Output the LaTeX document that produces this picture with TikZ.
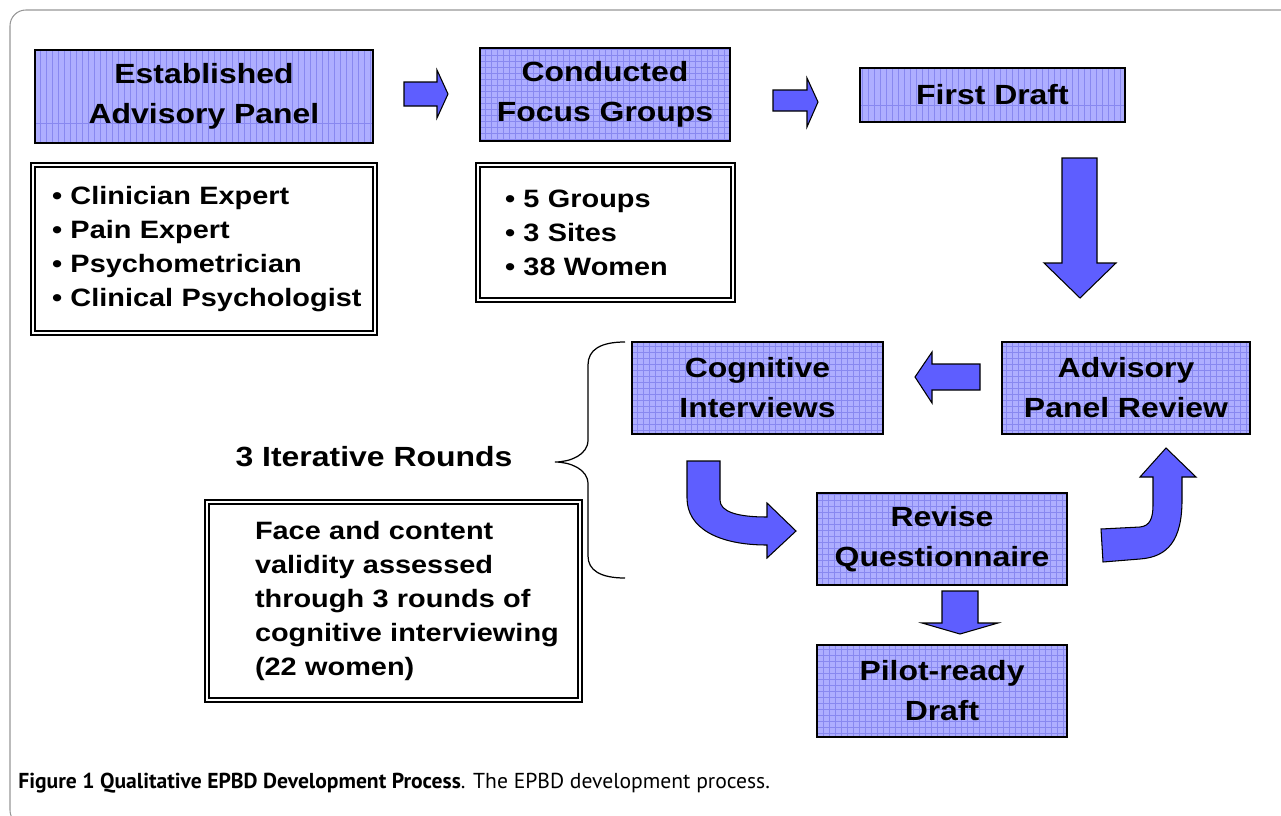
\documentclass[tikz,border=0pt]{standalone}
\usepackage{fontspec}
\setmainfont[FakeStretch=1.15]{Liberation Sans}
\newfontfamily\capfont{PT Sans}
\usetikzlibrary{calc,positioning,decorations.pathreplacing}
\definecolor{boxfill}{RGB}{174,174,255}
\definecolor{boxline}{RGB}{136,136,240}
\definecolor{arrfill}{RGB}{94,94,255}
\definecolor{framegray}{RGB}{150,150,150}
\tikzset{
    titlesty/.style={font=\fontsize{15.8}{22.7}\selectfont\bfseries, align=center},
    boxsty/.style={draw, line width=0.7pt, fill=boxfill, rectangle, inner sep=0pt, titlesty},
    gboxsty/.style={boxsty, path picture={\draw[boxline, line width=0.3pt, step=0.12cm]
        (path picture bounding box.south west) grid (path picture bounding box.north east);}},
    vboxsty/.style={boxsty, path picture={\draw[boxline, line width=0.3pt, xstep=0.12cm, ystep=8cm]
        (path picture bounding box.south west) grid (path picture bounding box.north east);}},
    liststy/.style={draw, double, double distance=1.5pt, line width=0.7pt, fill=white, rectangle,
        inner sep=0pt, align=left, font=\fontsize{14.3}{19.3}\selectfont\bfseries},
    arrsty/.style={draw, fill=arrfill, line width=0.6pt, line join=miter},
    framesty/.style={draw=framegray, line width=0.6pt, rounded corners=9pt},
}

\begin{document}
\begin{tikzpicture}[x=0.02cm, y=-0.02cm]
\useasboundingbox (0,0) rectangle (1281,815);
\begin{scope}
\clip (0,0) rectangle (1281,815);
\draw [framesty] (10,10) rectangle (1320,826);
\end{scope}

% top row
\node (estpanel) [vboxsty, minimum width=6.76cm, minimum height=1.86cm] at (204,96.5) {Established\\Advisory Panel};
\node (panellist) [liststy, text width=6.84cm, minimum height=3.36cm] at (204,249)
    {\leftskip=0.38cm \textbullet\ Clinician Expert\\\textbullet\ Pain Expert\\\textbullet\ Psychometrician\\\textbullet\ Clinical Psychologist\par};
\node (focus) [gboxsty, minimum width=5cm, minimum height=1.86cm] at (605,94.5) {Conducted\\Focus Groups};
\node (focuslist) [liststy, text width=5.1cm, minimum height=2.7cm] at (605.5,232.5)
    {\leftskip=0.54cm \textbullet\ 5 Groups\\\textbullet\ 3 Sites\\\textbullet\ 38 Women\par};
\node (draft) [vboxsty, minimum width=5.3cm, minimum height=1.08cm] at (992.5,95) {First Draft};

\draw [arrsty] (404,82) -- (437,82) -- (437,70) -- (448,94) -- (437,118) -- (437,106) -- (404,106) -- cycle;
\draw [arrsty] (773,90) -- (807,90) -- (807,78) -- (818,102) -- (807,127) -- (807,111) -- (773,111) -- cycle;
\draw [arrsty] (1062,158) -- (1097,158) -- (1097,263) -- (1116,263) -- (1080,298) -- (1044,263) -- (1062,263) -- cycle;

% review loop
\node (cogint) [gboxsty, minimum width=5.02cm, minimum height=1.84cm] at (757.5,388) {Cognitive\\Interviews};
\node (panrev) [gboxsty, minimum width=4.96cm, minimum height=1.84cm] at (1126,388) {Advisory\\Panel Review};
\node (revise) [gboxsty, minimum width=5cm, minimum height=1.84cm] at (942,539) {Revise\\Questionnaire};
\node (pilot) [gboxsty, minimum width=5cm, minimum height=1.84cm] at (942,691) {Pilot-ready\\Draft};

\draw [arrsty] (980,364) -- (932,364) -- (932,352) -- (915,377) -- (932,403) -- (932,390) -- (980,390) -- cycle;
\draw [arrsty] (687,461) -- (720,461) -- (720,500) .. controls (720,512) and (738,517) .. (767,517)
    -- (767,503) -- (796,531) -- (767,558) -- (767,545) .. controls (718,545) and (687,528) .. (687,498) -- cycle;
\draw [arrsty] (1101,529) -- (1140,527) .. controls (1150,526) and (1153,518) .. (1153,505) -- (1153,477)
    -- (1140,477) -- (1166,448) -- (1196,477) -- (1182,477) -- (1182,500)
    .. controls (1182,540) and (1168,557) .. (1140,559) -- (1103,562) -- cycle;
\draw [arrsty] (942,591) -- (978,591) -- (978,623) -- (998,623) -- (960,634) -- (922,623) -- (942,623) -- cycle;

% rounds
\draw [line width=0.7pt] (625,342) .. controls (600,342) and (588,350) .. (588,365) -- (588,440)
    .. controls (588,455) and (570,462) .. (555,462) .. controls (570,462) and (588,469) .. (588,484)
    -- (588,556) .. controls (588,570) and (600,578) .. (625,578);
\node (rounds) [titlesty] at (374,457) {3 Iterative Rounds};
\node (validbox) [liststy, text width=7.46cm, minimum height=3.96cm] at (393.5,601)
    {\leftskip=0.96cm Face and content\\validity assessed\\through 3 rounds of\\cognitive interviewing\\(22 women)\par};

\node (caption) [anchor=base west, inner sep=0pt, font=\capfont\fontsize{12.3}{14}\selectfont] at (18,788)
    {\textbf{Figure 1 Qualitative EPBD Development Process}. The EPBD development process.};
\end{tikzpicture}
\end{document}
